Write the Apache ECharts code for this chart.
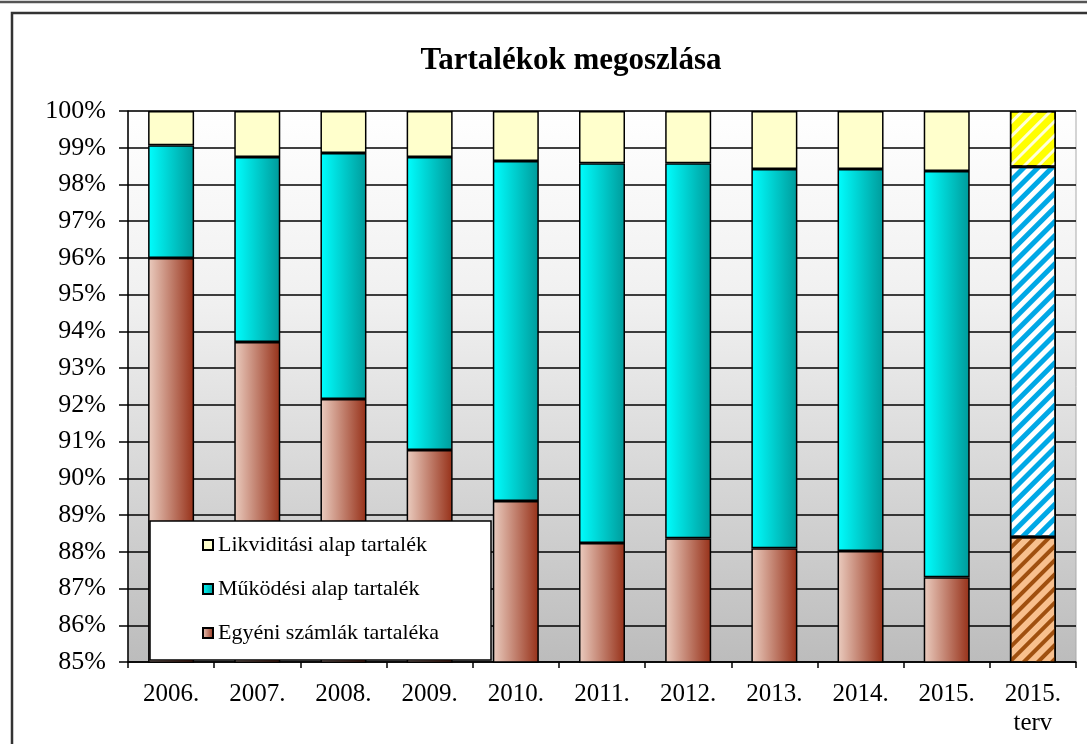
<!DOCTYPE html>
<html>
<head>
<meta charset="utf-8">
<script src="https://cdn.jsdelivr.net/npm/echarts@6/dist/echarts.min.js"></script>
<style>html,body{margin:0;padding:0;background:#fff;}#c{width:1087px;height:744px;}</style>
</head>
<body>
<div id="c"></div>
<script>
const categories = ['2006.', '2007.', '2008.', '2009.', '2010.', '2011.', '2012.', '2013.', '2014.', '2015.', '2015.\nterv'];
const egyeni    = [96.00, 93.71, 92.16, 90.77, 89.38, 88.24, 88.37, 88.10, 88.02, 87.31, 88.40];
const mukodesi  = [3.07, 5.04, 6.70, 7.98, 9.26, 10.34, 10.21, 10.32, 10.40, 11.06, 10.08];
const likvid    = [0.93, 1.25, 1.14, 1.25, 1.36, 1.42, 1.42, 1.58, 1.58, 1.63, 1.52];
const seriesNames = ['Likviditási alap tartalék', 'Működési alap tartalék', 'Egyéni számlák tartaléka'];
const titleText = 'Tartalékok megoszlása';

const FONT = 'Liberation Serif';
const grad = (a, b) => ({type: 'linear', x: 0, y: 0, x2: 1, y2: 0, colorStops: [{offset: 0, color: a}, {offset: 1, color: b}]});

function mkData(arr, planStyle) {
  return arr.map((v, i) => i === arr.length - 1 ? {value: v, itemStyle: planStyle} : v);
}

const border = {borderColor: '#000', borderWidth: 1.5};

const chart = echarts.init(document.getElementById('c'));
chart.setOption({
  animation: false,
  backgroundColor: '#fff',
  graphic: [
    {type: 'line', shape: {x1: 0, y1: 2, x2: 1087, y2: 2}, style: {stroke: '#555', lineWidth: 2.5}},
    {type: 'rect', shape: {x: 12, y: 13, width: 1200, height: 900}, style: {fill: 'none', stroke: '#333', lineWidth: 2.5}},
    {type: 'text', x: 571, y: 61, style: {text: titleText, font: 'bold 31px "Liberation Serif"', fill: '#000', textAlign: 'center', textVerticalAlign: 'middle'}},
    {type: 'rect', z: 3, shape: {x: 150, y: 521, width: 341, height: 139}, style: {fill: '#fff', stroke: '#000', lineWidth: 1.5}}
  ],
  grid: {
    left: 128, right: 11, top: 111, bottom: 82, show: true,
    borderColor: '#aaa', borderWidth: 1,
    backgroundColor: {type: 'linear', x: 0, y: 0, x2: 0, y2: 1, colorStops: [
      {offset: 0, color: '#ffffff'}, {offset: 0.35, color: '#f0f0f0'}, {offset: 1, color: '#bcbcbc'}]}
  },
  legend: {
    orient: 'vertical', left: 197, top: 529, z: 4,
    data: seriesNames, itemWidth: 10, itemHeight: 10, itemGap: 22,
    textStyle: {fontFamily: FONT, fontSize: 22, color: '#000'},
    icon: 'rect'
  },
  xAxis: {
    type: 'category', data: categories,
    axisLine: {lineStyle: {color: '#000', width: 1.5}},
    axisTick: {show: true, length: 6, lineStyle: {color: '#000', width: 1.5}},
    axisLabel: {fontFamily: FONT, fontSize: 25, color: '#000', margin: 18, lineHeight: 29}
  },
  yAxis: {
    type: 'value', min: 85, max: 100, interval: 1,
    axisLine: {show: true, lineStyle: {color: '#000', width: 1.5}},
    axisTick: {show: true, length: 9, lineStyle: {color: '#000', width: 1.5}},
    axisLabel: {fontFamily: FONT, fontSize: 26, color: '#000', margin: 22, formatter: v => v + '%'},
    splitLine: {lineStyle: {color: '#000', width: 1.5}}
  },
  series: [
    {
      name: seriesNames[2], type: 'bar', stack: 's', barWidth: 46,
      itemStyle: Object.assign({color: grad('#ebcdc0', '#963018')}, border),
      data: mkData(egyeni, Object.assign({color: '#f8c08e', decal: {symbol: 'rect', symbolSize: 1, color: '#a0500f', dashArrayX: [1, 0], dashArrayY: [4, 6], rotation: -Math.PI / 4}}, border))
    },
    {
      name: seriesNames[1], type: 'bar', stack: 's', barWidth: 46,
      itemStyle: Object.assign({color: grad('#00ffff', '#009a9a')}, border),
      data: mkData(mukodesi, Object.assign({color: '#ffffff', decal: {symbol: 'rect', symbolSize: 1, color: '#00a8e6', dashArrayX: [1, 0], dashArrayY: [5, 5], rotation: -Math.PI / 4}}, border))
    },
    {
      name: seriesNames[0], type: 'bar', stack: 's', barWidth: 46,
      itemStyle: Object.assign({color: '#ffffcc'}, border),
      data: mkData(likvid, Object.assign({color: '#ffff00', decal: {symbol: 'rect', symbolSize: 1, color: 'rgba(255,255,255,0.85)', dashArrayX: [1, 0], dashArrayY: [3, 7], rotation: -Math.PI / 4}}, border))
    }
  ]
});
</script>
</body>
</html>
